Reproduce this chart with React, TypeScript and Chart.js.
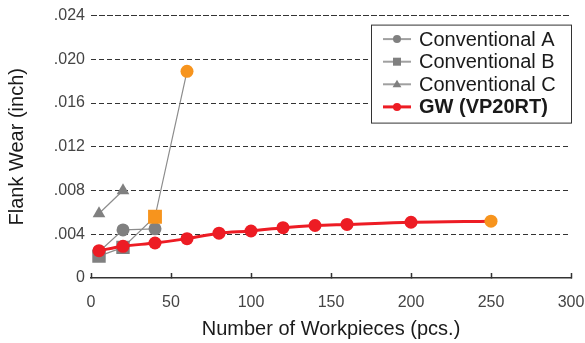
import React, { useEffect, useRef } from 'react';
import { Chart, registerables } from 'chart.js';

Chart.register(...registerables);

// Axis ticks
const xTicks = [0, 50, 100, 150, 200, 250, 300];
const yTicks = [0, 0.004, 0.008, 0.012, 0.016, 0.02, 0.024];

// Series: workpieces machined (pcs.) vs. flank wear (inch)
const convAX = [5, 20, 40];
const convAY = [0.0024, 0.0044, 0.0045];

const convBX = [5, 20, 40, 60];
const convBY = [0.002, 0.0028, 0.0056, 0.0189];

const convCX = [5, 20];
const convCY = [0.0059, 0.008];

const gwX = [5, 20, 40, 60, 80, 100, 120, 140, 160, 200, 250];
const gwY = [0.0025, 0.0029, 0.0032, 0.0036, 0.0041, 0.0043, 0.0046, 0.0048, 0.0049, 0.0051, 0.0052];

const seriesLabels = ['Conventional A', 'Conventional B', 'Conventional C', 'GW (VP20RT)'];

const RED = '#ED1C24';
const ORANGE = '#F7941D';
const GRAY = '#808080';
const GRAY_LINE = '#8c8c8c';
const FONT = '"Liberation Sans", Arial, Helvetica, sans-serif';

const toPoints = (xs: number[], ys: number[]) => xs.map((x, i) => ({ x, y: ys[i] }));

function drawMarker(ctx: CanvasRenderingContext2D, style: string, x: number, y: number, r: number) {
  ctx.beginPath();
  if (style === 'rect') {
    ctx.rect(x - r, y - r, 2 * r, 2 * r);
  } else if (style === 'triangle') {
    ctx.moveTo(x, y - r * 1.15);
    ctx.lineTo(x + r * 1.1, y + r * 0.75);
    ctx.lineTo(x - r * 1.1, y + r * 0.75);
    ctx.closePath();
  } else {
    ctx.arc(x, y, r, 0, Math.PI * 2);
  }
  ctx.fill();
}

// Boxed legend drawn in the top-right corner of the plot area
const boxLegend = {
  id: 'boxLegend',
  afterDraw(chart: any) {
    const { ctx, chartArea } = chart;
    const width = 201;
    const height = 99;
    const right = chartArea.right + 1;
    const top = chartArea.top + 9;
    const left = right - width;
    ctx.save();
    ctx.fillStyle = '#ffffff';
    ctx.fillRect(left, top, width, height);
    ctx.strokeStyle = '#333333';
    ctx.lineWidth = 1;
    ctx.strokeRect(left + 0.5, top + 0.5, width - 1, height - 1);

    chart.data.datasets.forEach((ds: any, i: number) => {
      const cy = top + 14.5 + i * 22.6;
      const x0 = left + 12;
      const x1 = left + 40;
      const isMain = ds.label === seriesLabels[3];
      ctx.strokeStyle = isMain ? RED : '#a0a0a0';
      ctx.lineWidth = isMain ? 3 : 2;
      ctx.beginPath();
      ctx.moveTo(x0, cy);
      ctx.lineTo(x1, cy);
      ctx.stroke();
      ctx.fillStyle = isMain ? RED : GRAY;
      const style = Array.isArray(ds.pointStyle) ? ds.pointStyle[0] : ds.pointStyle;
      drawMarker(ctx, style, (x0 + x1) / 2, cy, 4);
      ctx.fillStyle = '#1a1a1a';
      ctx.font = `${isMain ? 'bold ' : ''}20px ${FONT}`;
      ctx.textBaseline = 'middle';
      ctx.textAlign = 'left';
      ctx.fillText(ds.label, left + 48, cy + 1);
    });
    ctx.restore();
  },
};

export default function App() {
  const canvasRef = useRef<HTMLCanvasElement | null>(null);

  useEffect(() => {
    document.body.style.margin = '0';
    const canvas = canvasRef.current;
    if (!canvas) return;
    Chart.defaults.font.family = FONT;

    const chart = new Chart(canvas, {
      type: 'line',
      data: {
        datasets: [
          {
            label: seriesLabels[0],
            data: toPoints(convAX, convAY),
            borderColor: GRAY_LINE,
            borderWidth: 1.2,
            pointStyle: 'circle',
            pointRadius: 6.5,
            pointBackgroundColor: GRAY,
            pointBorderColor: GRAY,
            pointBorderWidth: 0,
            order: 2,
          },
          {
            label: seriesLabels[1],
            data: toPoints(convBX, convBY),
            borderColor: GRAY_LINE,
            borderWidth: 1.2,
            pointStyle: ['rect', 'rect', 'rect', 'circle'],
            pointRadius: [9.5, 9.5, 9.8, 6.5],
            pointBackgroundColor: [GRAY, GRAY, ORANGE, ORANGE],
            pointBorderColor: [GRAY, GRAY, ORANGE, ORANGE],
            pointBorderWidth: 0,
            order: 1,
          },
          {
            label: seriesLabels[2],
            data: toPoints(convCX, convCY),
            borderColor: GRAY_LINE,
            borderWidth: 1.2,
            pointStyle: 'triangle',
            pointRadius: 7.3,
            pointBackgroundColor: GRAY,
            pointBorderColor: GRAY,
            pointBorderWidth: 0,
            order: 3,
          },
          {
            label: seriesLabels[3],
            data: toPoints(gwX, gwY),
            borderColor: RED,
            borderWidth: 3,
            cubicInterpolationMode: 'monotone',
            pointStyle: 'circle',
            pointRadius: 6.5,
            pointBackgroundColor: gwX.map((_, i) => (i === gwX.length - 1 ? ORANGE : RED)),
            pointBorderColor: gwX.map((_, i) => (i === gwX.length - 1 ? ORANGE : RED)),
            pointBorderWidth: 0,
            order: 0,
          },
        ],
      },
      options: {
        responsive: false,
        animation: false,
        layout: { padding: { top: 15, right: 14, left: 0, bottom: 0 } },
        plugins: {
          legend: { display: false },
          tooltip: { enabled: false },
        },
        scales: {
          x: {
            type: 'linear',
            min: 0,
            max: 300,
            afterBuildTicks: (scale: any) => {
              scale.ticks = xTicks.map((v) => ({ value: v }));
            },
            afterFit: (scale: any) => {
              scale.height = 65;
              scale.paddingLeft = 0;
              scale.paddingRight = 0;
            },
            ticks: {
              font: { size: 16 },
              color: '#444444',
              padding: 20,
              maxRotation: 0,
              callback: (v: any) => String(v),
            },
            grid: {
              drawOnChartArea: false,
              drawTicks: true,
              tickLength: -5,
              tickColor: '#333333',
              tickWidth: 1.5,
              color: '#333333',
            },
            border: { display: true, color: '#333333', width: 1.5 },
            title: {
              display: true,
              text: 'Number of Workpieces (pcs.)',
              font: { size: 20 },
              color: '#1a1a1a',
              padding: { top: 0, bottom: 2 },
            },
          },
          y: {
            type: 'linear',
            min: 0,
            max: 0.024,
            afterBuildTicks: (scale: any) => {
              scale.ticks = yTicks.map((v) => ({ value: v }));
            },
            afterFit: (scale: any) => {
              scale.width = 91;
            },
            ticks: {
              font: { size: 16 },
              color: '#444444',
              padding: 6,
              callback: (v: any) => (Number(v) === 0 ? '0' : Number(v).toFixed(3).replace(/^0/, '')),
            },
            grid: {
              drawTicks: false,
              color: (c: any) => (c.tick && c.tick.value === 0 ? 'rgba(0,0,0,0)' : '#333333'),
              lineWidth: 1,
            },
            border: {
              display: false,
              dash: (c: any) => (c.tick && c.tick.value === 0.024 ? [6, 2] : [5, 3]),
            },
            title: {
              display: true,
              text: 'Flank Wear (inch)',
              font: { size: 20 },
              color: '#1a1a1a',
              padding: { top: 5, bottom: 0 },
            },
          },
        },
      },
      plugins: [boxLegend],
    } as any);

    return () => chart.destroy();
  }, []);

  return (
    <div style={{ width: 585, height: 343, background: '#ffffff' }}>
      <canvas ref={canvasRef} width={585} height={343} style={{ display: 'block', width: 585, height: 343 }} />
    </div>
  );
}
